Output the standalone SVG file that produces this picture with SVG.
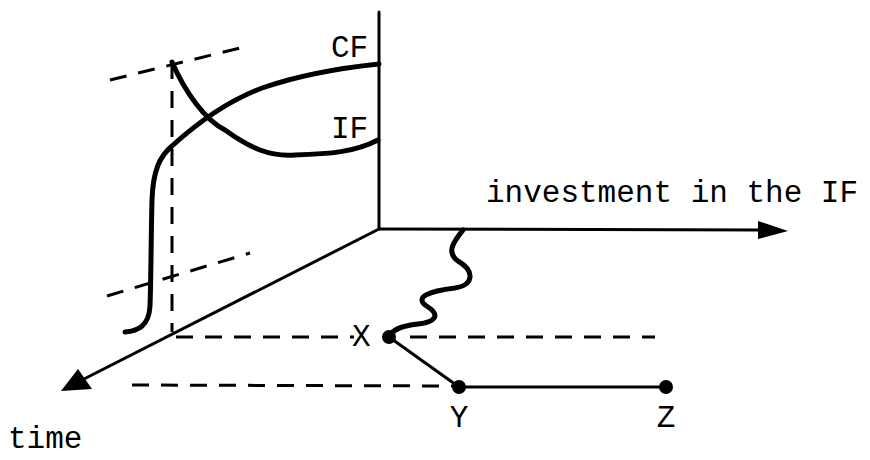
<svg xmlns="http://www.w3.org/2000/svg" width="870" height="460" viewBox="0 0 870 460">
<defs>
<style>
.t{font-family:"Liberation Mono","DejaVu Sans Mono",monospace;font-size:31px;fill:#000}
.ax{stroke:#000;stroke-width:3;fill:none;stroke-linecap:round}
.dash{stroke:#000;stroke-width:3;fill:none;stroke-dasharray:17 12}
.curve{stroke:#000;stroke-width:5;fill:none;stroke-linecap:round;stroke-linejoin:round}
.dot{fill:#000}
</style>
</defs>
<rect width="870" height="460" fill="#fff"/>
<g id="axes">
<line class="ax" x1="379" y1="12" x2="379" y2="229"/>
<line class="ax" x1="379" y1="229" x2="760" y2="230"/>
<path d="M758,221 L788,231 L758,239 Z" fill="#000"/>
<line class="ax" x1="379" y1="229" x2="84" y2="379"/>
<path d="M78,369 L61,391 L92,389 Z" fill="#000"/>
</g>
<g id="guides">
<line class="dash" x1="110" y1="80" x2="240" y2="48"/>
<line class="dash" x1="172" y1="62" x2="172" y2="332"/>
<line class="dash" x1="107" y1="296" x2="250" y2="253"/>
<line class="dash" x1="176" y1="337" x2="354" y2="337"/>
<line class="dash" x1="410" y1="337" x2="655" y2="337"/>
<line class="dash" x1="132" y1="385" x2="455" y2="386"/>
</g>
<g id="curves">
<path id="cf" class="curve" d="M379,64 C340,68 300,75 262,88 C225,102 195,125 172,146 C160,156 153,170 152,200 C151,240 151,280 150,306 C149,326 138,331 125,332"/>
<path id="if" class="curve" stroke-width="4" d="M172,62 C185,92 205,120 225,130 C250,148 270,157 295,155 C330,154 355,152 378,140"/>
</g>
<g id="connectors">
<path class="curve" d="M463,230 C455,240 445,252 458,261 C475,271 474,285 455,288 C430,291 412,297 428,307 C440,315 436,322 418,324 C400,326 392,330 389,337"/>
<line class="ax" stroke-width="5" x1="389" y1="337" x2="459" y2="387"/>
<line class="ax" stroke-width="3.5" x1="459" y1="387" x2="666" y2="387"/>
</g>
<g id="nodeX"><circle class="dot" cx="389" cy="337" r="7"/><text class="t" x="352" y="346">X</text></g>
<g id="nodeY"><circle class="dot" cx="459" cy="387" r="7"/><text class="t" x="459" y="427" text-anchor="middle">Y</text></g>
<g id="nodeZ"><circle class="dot" cx="666" cy="387" r="7"/><text class="t" x="666" y="427" text-anchor="middle">Z</text></g>
<g id="labels">
<text class="t" x="331" y="57">CF</text>
<text class="t" x="331" y="138">IF</text>
<text class="t" x="486" y="202">investment in the IF</text>
<text class="t" x="8" y="448">time</text>
</g>
</svg>
